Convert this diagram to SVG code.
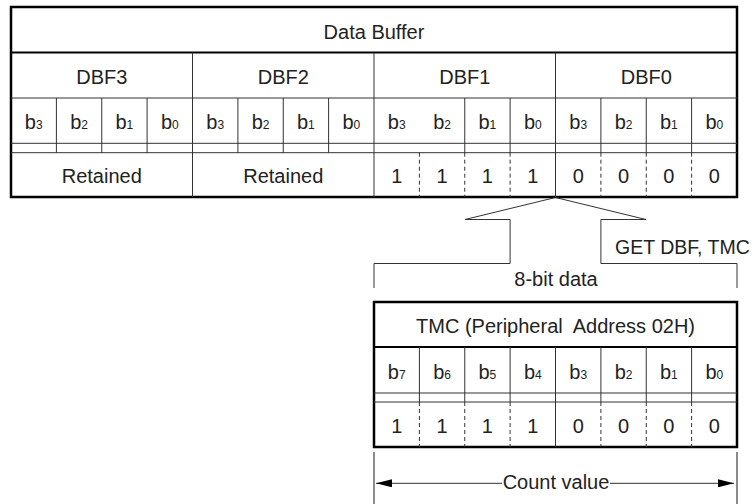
<svg xmlns="http://www.w3.org/2000/svg" width="756" height="504" viewBox="0 0 756 504">
<defs>
<style>
.bd{fill:none;stroke:#000;stroke-width:2.5}
.hl{fill:none;stroke:#000;stroke-width:2}
.ln{fill:none;stroke:#333;stroke-width:1}
.ds{fill:none;stroke:#333;stroke-width:1;stroke-dasharray:4 3}
.gl{fill:none;stroke:#666;stroke-width:1.5}
.t{font-family:"Liberation Sans",Arial,Helvetica,sans-serif;font-size:20px;fill:#222;text-anchor:middle}
.s{font-size:12px}
</style>
<marker id="ah" viewBox="0 0 16 8" refX="16" refY="4" markerWidth="16" markerHeight="8" markerUnits="userSpaceOnUse" orient="auto">
<path d="M0,0 L16,4 L0,8 Z" fill="#000"/>
</marker>
</defs>
<rect width="756" height="504" fill="#fff"/>

<g id="data-buffer">
<rect class="bd" x="11" y="7" width="726" height="190"/>
<line class="hl" x1="11" y1="52.5" x2="737" y2="52.5"/>
<line class="ln" x1="11" y1="98" x2="737" y2="98"/>
<line class="ln" x1="11" y1="143.3" x2="737" y2="143.3"/>
<line class="ln" x1="11" y1="152.7" x2="737" y2="152.7"/>
<path class="ln" d="M192.5,52.5V197M374,52.5V197M555.5,52.5V197"/>
<path class="ln" d="M56.4,98V152.7M101.75,98V152.7M147.1,98V152.7M237.9,98V152.7M283.25,98V152.7M328.6,98V152.7M464.75,98V152.7M510.1,98V152.7M600.9,98V152.7M646.25,98V152.7M691.6,98V152.7"/>
<path class="ds" d="M419.4,152.7V197M464.75,152.7V197M510.1,152.7V197M600.9,152.7V197M646.25,152.7V197M691.6,152.7V197"/>
<text class="t" x="374" y="38.5">Data Buffer</text>
<text class="t" x="101.75" y="84">DBF3</text>
<text class="t" x="283.25" y="84">DBF2</text>
<text class="t" x="464.75" y="84">DBF1</text>
<text class="t" x="646.25" y="84">DBF0</text>
<text class="t" x="33.7" y="129">b<tspan class="s">3</tspan></text>
<text class="t" x="79.1" y="129">b<tspan class="s">2</tspan></text>
<text class="t" x="124.4" y="129">b<tspan class="s">1</tspan></text>
<text class="t" x="169.8" y="129">b<tspan class="s">0</tspan></text>
<text class="t" x="215.2" y="129">b<tspan class="s">3</tspan></text>
<text class="t" x="260.6" y="129">b<tspan class="s">2</tspan></text>
<text class="t" x="305.9" y="129">b<tspan class="s">1</tspan></text>
<text class="t" x="351.3" y="129">b<tspan class="s">0</tspan></text>
<text class="t" x="396.7" y="129">b<tspan class="s">3</tspan></text>
<text class="t" x="442.1" y="129">b<tspan class="s">2</tspan></text>
<text class="t" x="487.4" y="129">b<tspan class="s">1</tspan></text>
<text class="t" x="532.8" y="129">b<tspan class="s">0</tspan></text>
<text class="t" x="578.2" y="129">b<tspan class="s">3</tspan></text>
<text class="t" x="623.6" y="129">b<tspan class="s">2</tspan></text>
<text class="t" x="668.9" y="129">b<tspan class="s">1</tspan></text>
<text class="t" x="714.3" y="129">b<tspan class="s">0</tspan></text>
<text class="t" x="101.75" y="183.3">Retained</text>
<text class="t" x="283.25" y="183.3">Retained</text>
<text class="t" x="396.7" y="183.3">1</text>
<text class="t" x="442.1" y="183.3">1</text>
<text class="t" x="487.4" y="183.3">1</text>
<text class="t" x="532.8" y="183.3">1</text>
<text class="t" x="578.2" y="183.3">0</text>
<text class="t" x="623.6" y="183.3">0</text>
<text class="t" x="668.9" y="183.3">0</text>
<text class="t" x="714.3" y="183.3">0</text>
</g>

<g id="tmc">
<rect class="bd" x="374" y="302" width="363" height="145"/>
<line class="hl" x1="374" y1="347" x2="737" y2="347"/>
<line class="ln" x1="374" y1="393" x2="737" y2="393"/>
<line class="ln" x1="374" y1="402" x2="737" y2="402"/>
<path class="ln" d="M419.4,347V402M464.75,347V402M510.1,347V402M555.5,347V447M600.9,347V402M646.25,347V402M691.6,347V402"/>
<path class="ds" d="M419.4,402V447M464.75,402V447M510.1,402V447M600.9,402V447M646.25,402V447M691.6,402V447"/>
<text class="t" x="555.5" y="333" xml:space="preserve">TMC (Peripheral  Address 02H)</text>
<text class="t" x="396.7" y="378.5">b<tspan class="s">7</tspan></text>
<text class="t" x="442.1" y="378.5">b<tspan class="s">6</tspan></text>
<text class="t" x="487.4" y="378.5">b<tspan class="s">5</tspan></text>
<text class="t" x="532.8" y="378.5">b<tspan class="s">4</tspan></text>
<text class="t" x="578.2" y="378.5">b<tspan class="s">3</tspan></text>
<text class="t" x="623.6" y="378.5">b<tspan class="s">2</tspan></text>
<text class="t" x="668.9" y="378.5">b<tspan class="s">1</tspan></text>
<text class="t" x="714.3" y="378.5">b<tspan class="s">0</tspan></text>
<text class="t" x="396.7" y="433">1</text>
<text class="t" x="442.1" y="433">1</text>
<text class="t" x="487.4" y="433">1</text>
<text class="t" x="532.8" y="433">1</text>
<text class="t" x="578.2" y="433">0</text>
<text class="t" x="623.6" y="433">0</text>
<text class="t" x="668.9" y="433">0</text>
<text class="t" x="714.3" y="433">0</text>
</g>

<g id="labels">
<text class="t" x="556" y="286">8-bit data</text>
<text class="t" x="615" y="254" style="text-anchor:start;font-size:19.5px">GET DBF, TMC</text>
<text class="t" x="556" y="489">Count value</text>
</g>

<g id="connectors">
<path class="ln" d="M465,219.5L555.5,197.5L646,219.5"/>
<path class="ln" d="M465,219.5H510.1V263.5H374V288"/>
<path class="ln" d="M646,219.5H600.9V263.5H737V288"/>
<path class="gl" d="M374,452V504M737,452V504"/>
<line class="ln" x1="502" y1="483.3" x2="376" y2="483.3" marker-end="url(#ah)"/>
<line class="ln" x1="610" y1="483.3" x2="734" y2="483.3" marker-end="url(#ah)"/>
</g>
</svg>
